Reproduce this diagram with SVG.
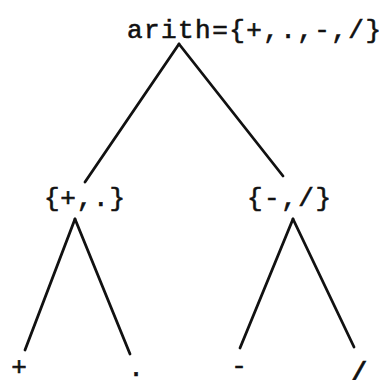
<svg xmlns="http://www.w3.org/2000/svg" width="384" height="380" viewBox="0 0 384 380">
<style>
text{font-family:"Liberation Mono","DejaVu Sans Mono",monospace;font-size:26px;fill:#111;stroke:#111;stroke-width:0.6}
.e{stroke:#111;stroke-width:2.8;fill:none;stroke-linecap:round}
</style>
<rect width="384" height="380" fill="#fff"/>
<g id="connectors">
<line class="e" x1="179" y1="44" x2="85" y2="182"/>
<line class="e" x1="179" y1="44" x2="283" y2="176"/>
<line class="e" x1="75" y1="219" x2="25" y2="350"/>
<line class="e" x1="75" y1="219" x2="130" y2="354"/>
<line class="e" x1="293" y1="219" x2="240" y2="348"/>
<line class="e" x1="293" y1="219" x2="354" y2="347"/>
</g>
<g id="root"><text x="127" y="38" textLength="254" lengthAdjust="spacing">arith={+,.,-,/}</text></g>
<g id="left"><text x="44" y="206" textLength="81" lengthAdjust="spacing">{+,.}</text></g>
<g id="right"><text x="247" y="206" textLength="84" lengthAdjust="spacing">{-,/}</text></g>
<g id="plus"><text x="19" y="375" text-anchor="middle">+</text></g>
<g id="dot"><text x="136" y="376" text-anchor="middle">.</text></g>
<g id="minus"><text x="239" y="374" text-anchor="middle">-</text></g>
<g id="slash"><text x="358" y="384" text-anchor="middle" style="font-size:32px">/</text></g>
</svg>
